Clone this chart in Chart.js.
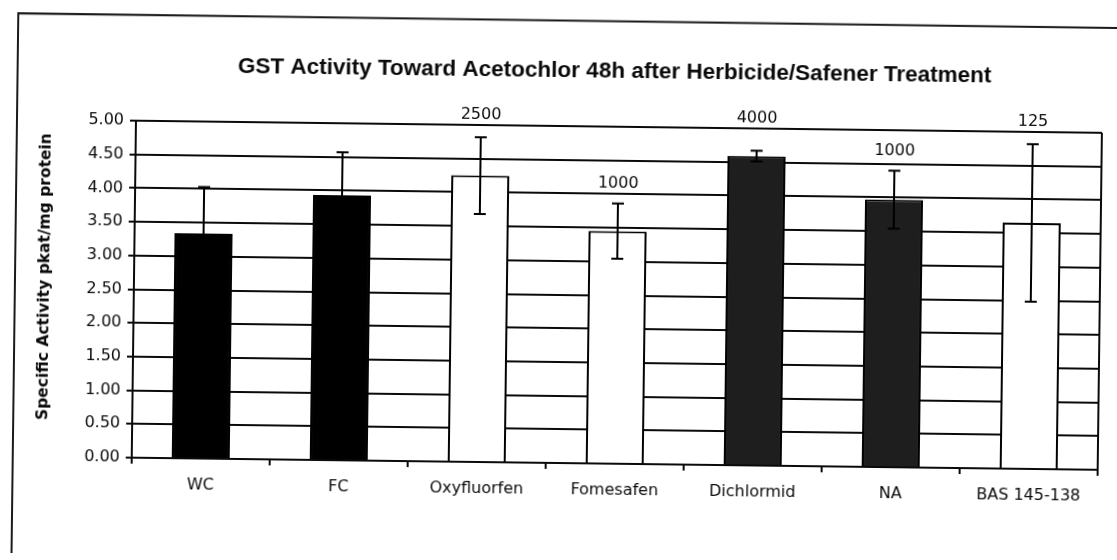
<!DOCTYPE html>
<html>
<head>
<meta charset="utf-8">
<script src="https://cdn.jsdelivr.net/npm/chart.js@4.4.0/dist/chart.umd.min.js"></script>
<style>
  html, body { margin: 0; padding: 0; background: #fff; overflow: hidden; }
  #sheet {
    position: absolute; left: 0; top: 0; width: 1117px; height: 560px;
    transform: rotate(0.72deg); transform-origin: 558px 280px;
  }
  canvas { display: block; }
</style>
</head>
<body>
<div id="sheet"><canvas id="gst" width="1117" height="560"></canvas></div>
<script>
// Treatments on the category axis
const categories = ['WC', 'FC', 'Oxyfluorfen', 'Fomesafen', 'Dichlormid', 'NA', 'BAS 145-138'];
// Mean GST specific activity (pkat/mg protein)
const activity = [3.34, 3.93, 4.25, 3.45, 4.59, 3.97, 3.65];
// Error bar half-widths (+/-)
const errorMargin = [0.69, 0.64, 0.57, 0.41, 0.08, 0.43, 1.17];
// Applied rates written above the treated bars
const doseLabels = ['', '', '2500', '1000', '4000', '1000', '125'];
// Value axis ticks
const yTicks = [0, 0.5, 1, 1.5, 2, 2.5, 3, 3.5, 4, 4.5, 5];

const barFill = ['#000000', '#000000', '#ffffff', '#ffffff', '#1e1e1e', '#1e1e1e', '#ffffff'];
const INK = '#0a0a0a';
const TEXT_FONT = '"DejaVu Sans", "Liberation Sans", Arial, sans-serif';

// Outer border of the chart sheet
const framePlugin = {
  id: 'frame',
  beforeDraw(chart) {
    const c = chart.ctx;
    c.save();
    c.fillStyle = '#ffffff';
    c.fillRect(0, 0, chart.width, chart.height);
    c.strokeStyle = '#1a1a1a';
    c.lineWidth = 2;
    c.beginPath();
    c.moveTo(1140, 21);
    c.lineTo(15, 20);
    c.lineTo(15, 562);
    c.lineTo(1140, 562);
    c.stroke();
    c.restore();
  }
};

// Titles drawn as canvas text
const titlePlugin = {
  id: 'titles',
  afterDraw(chart) {
    const c = chart.ctx;
    c.save();
    c.fillStyle = INK;
    c.textAlign = 'center';
    c.textBaseline = 'middle';
    c.font = 'bold 22.5px "Liberation Sans", Arial, sans-serif';
    c.fillText('GST Activity Toward Acetochlor 48h after Herbicide/Safener Treatment', 612, 71);
    c.translate(45, 283);
    c.rotate(-Math.PI / 2);
    c.font = 'bold 15.5px ' + TEXT_FONT;
    c.fillText('Specific Activity pkat/mg protein', 0, 0);
    c.restore();
  }
};

// Error bars, plot border and dose labels
const errorPlugin = {
  id: 'errorBars',
  afterDatasetsDraw(chart) {
    const c = chart.ctx;
    const ys = chart.scales.y;
    const area = chart.chartArea;
    const meta = chart.getDatasetMeta(0);
    c.save();
    c.strokeStyle = INK;
    c.lineWidth = 2;
    c.beginPath();
    c.moveTo(area.right, area.top);
    c.lineTo(area.right, area.bottom);
    c.stroke();

    c.strokeStyle = '#000';
    c.lineWidth = 2;
    meta.data.forEach((bar, i) => {
      const hi = ys.getPixelForValue(activity[i] + errorMargin[i]);
      const lo = ys.getPixelForValue(activity[i] - errorMargin[i]);
      const x = bar.x;
      c.beginPath();
      c.moveTo(x, hi); c.lineTo(x, lo);
      c.moveTo(x - 6, hi); c.lineTo(x + 6, hi);
      c.moveTo(x - 6, lo); c.lineTo(x + 6, lo);
      c.stroke();
      if (doseLabels[i]) {
        // keep the rate label clear of the top border line
        let ly = hi - 20;
        if (ly + 9 > area.top && ly - 9 < area.top) ly = area.top - 10;
        c.fillStyle = INK;
        c.font = '16px ' + TEXT_FONT;
        c.textAlign = 'center';
        c.textBaseline = 'middle';
        c.fillText(doseLabels[i], x, ly);
      }
    });
    c.restore();
  }
};

new Chart(document.getElementById('gst'), {
  type: 'bar',
  data: {
    labels: categories,
    datasets: [{
      data: activity,
      backgroundColor: barFill,
      borderColor: '#000',
      borderWidth: 2,
      barPercentage: 0.42,
      categoryPercentage: 1
    }]
  },
  options: {
    responsive: false,
    animation: false,
    devicePixelRatio: 1,
    layout: { padding: { left: 0, right: 17, top: 126, bottom: 0 } },
    plugins: {
      legend: { display: false },
      tooltip: { enabled: false },
      title: { display: false }
    },
    scales: {
      x: {
        grid: { display: true, drawOnChartArea: false, drawTicks: true, tickLength: 6, color: INK, lineWidth: 2, offset: true },
        border: { display: true, color: INK, width: 2 },
        ticks: { color: INK, font: { family: TEXT_FONT, size: 16 }, padding: 11, maxRotation: 0, autoSkip: false },
        afterFit(s) { s.height = 97; }
      },
      y: {
        min: 0, max: 5,
        afterBuildTicks(s) { s.ticks = yTicks.map(v => ({ value: v })); },
        grid: { color: INK, lineWidth: 2, tickLength: 6 },
        border: { color: INK, width: 2 },
        ticks: { color: INK, font: { family: TEXT_FONT, size: 16 }, padding: 6, callback: v => Number(v).toFixed(2) },
        afterFit(s) { s.width = 134; }
      }
    }
  },
  plugins: [framePlugin, titlePlugin, errorPlugin]
});
</script>
</body>
</html>
